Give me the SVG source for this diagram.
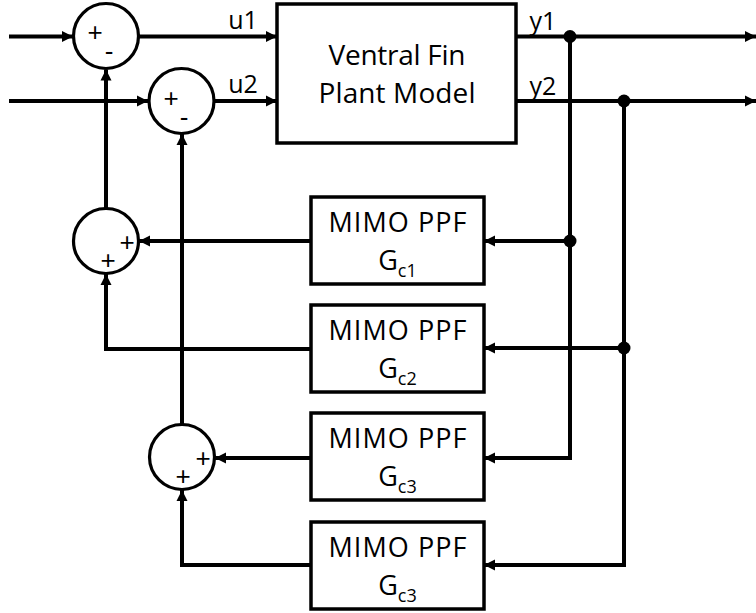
<svg xmlns="http://www.w3.org/2000/svg" width="756" height="613" viewBox="0 0 756 613">
<defs>
<marker id="arr" markerUnits="userSpaceOnUse" markerWidth="12" markerHeight="12" refX="11" refY="6" orient="auto">
<path d="M0,0.5 L11,6 L0,11.5 z" fill="#000"/>
</marker>
<style>
.ln{fill:none;stroke:#000;stroke-width:4;stroke-linejoin:miter}
.bx{fill:#fff;stroke:#000;stroke-width:3.5}
.sum{fill:#fff;stroke:#000;stroke-width:3.2}
.t{font-family:"Open Sans","Liberation Sans",sans-serif;fill:#000;text-anchor:middle}
.big{font-size:28px}
.mid{font-size:27px}
.lbl{font-size:25px}
.sg{font-family:"Liberation Sans",Arial,sans-serif;font-size:26px;fill:#000;text-anchor:middle}
.sub{font-size:18px}
</style>
</defs>
<rect width="756" height="613" fill="#fff"/>

<g id="connectors">
<path class="ln" d="M9,36.5 H73" marker-end="url(#arr)"/>
<path class="ln" d="M139,36.5 H277" marker-end="url(#arr)"/>
<path class="ln" d="M9,101 H148" marker-end="url(#arr)"/>
<path class="ln" d="M215,101 H277" marker-end="url(#arr)"/>
<path class="ln" d="M516,36.5 H756" marker-end="url(#arr)"/>
<path class="ln" d="M516,101 H756" marker-end="url(#arr)"/>
<path class="ln" d="M570,36.5 V458 H484" marker-end="url(#arr)"/>
<path class="ln" d="M570,241 H484" marker-end="url(#arr)"/>
<path class="ln" d="M624,101 V565 H484" marker-end="url(#arr)"/>
<path class="ln" d="M624,348 H484" marker-end="url(#arr)"/>
<path class="ln" d="M311,241 H139" marker-end="url(#arr)"/>
<path class="ln" d="M106,208 V69.5" marker-end="url(#arr)"/>
<path class="ln" d="M311,349 H106 V274" marker-end="url(#arr)"/>
<path class="ln" d="M311,458 H215" marker-end="url(#arr)"/>
<path class="ln" d="M182,424 V134" marker-end="url(#arr)"/>
<path class="ln" d="M311,565 H182 V490" marker-end="url(#arr)"/>
<circle cx="570" cy="36.5" r="6.5" fill="#000"/>
<circle cx="570" cy="241" r="6.5" fill="#000"/>
<circle cx="624" cy="101" r="6.5" fill="#000"/>
<circle cx="624" cy="348" r="6.5" fill="#000"/>
<text class="t lbl" x="243" y="29">u1</text>
<text class="t lbl" x="243" y="93">u2</text>
<text class="t lbl" x="543" y="30">y1</text>
<text class="t lbl" x="543" y="95">y2</text>
</g>

<g id="sum1">
<circle class="sum" cx="106" cy="36" r="32.5"/>
<text class="sg" x="95" y="41">+</text>
<text class="sg" x="109" y="60">-</text>
</g>
<g id="sum2">
<circle class="sum" cx="181.5" cy="101" r="32.5"/>
<text class="sg" x="171" y="107">+</text>
<text class="sg" x="184" y="126">-</text>
</g>
<g id="sum3">
<circle class="sum" cx="106" cy="241" r="32.5"/>
<text class="sg" x="127" y="251">+</text>
<text class="sg" x="108" y="269">+</text>
</g>
<g id="sum4">
<circle class="sum" cx="182" cy="457" r="32.5"/>
<text class="sg" x="203" y="467">+</text>
<text class="sg" x="183" y="485">+</text>
</g>

<g id="plant">
<rect class="bx" x="277" y="4" width="239" height="139"/>
<text class="t big" x="397" y="65" textLength="137">Ventral Fin</text>
<text class="t big" x="397" y="103" textLength="157">Plant Model</text>
</g>

<g id="ppf1">
<rect class="bx" x="311" y="197" width="173" height="87"/>
<text class="t mid" x="397.5" y="232" textLength="138">MIMO PPF</text>
<text class="t mid" x="397.5" y="270">G<tspan class="sub" dy="7">c1</tspan></text>
</g>
<g id="ppf2">
<rect class="bx" x="311" y="305" width="173" height="87"/>
<text class="t mid" x="397.5" y="340" textLength="138">MIMO PPF</text>
<text class="t mid" x="397.5" y="378">G<tspan class="sub" dy="7">c2</tspan></text>
</g>
<g id="ppf3">
<rect class="bx" x="311" y="413" width="173" height="87"/>
<text class="t mid" x="397.5" y="448" textLength="138">MIMO PPF</text>
<text class="t mid" x="397.5" y="486">G<tspan class="sub" dy="7">c3</tspan></text>
</g>
<g id="ppf4">
<rect class="bx" x="311" y="522" width="173" height="87"/>
<text class="t mid" x="397.5" y="557" textLength="138">MIMO PPF</text>
<text class="t mid" x="397.5" y="595">G<tspan class="sub" dy="7">c3</tspan></text>
</g>
</svg>
